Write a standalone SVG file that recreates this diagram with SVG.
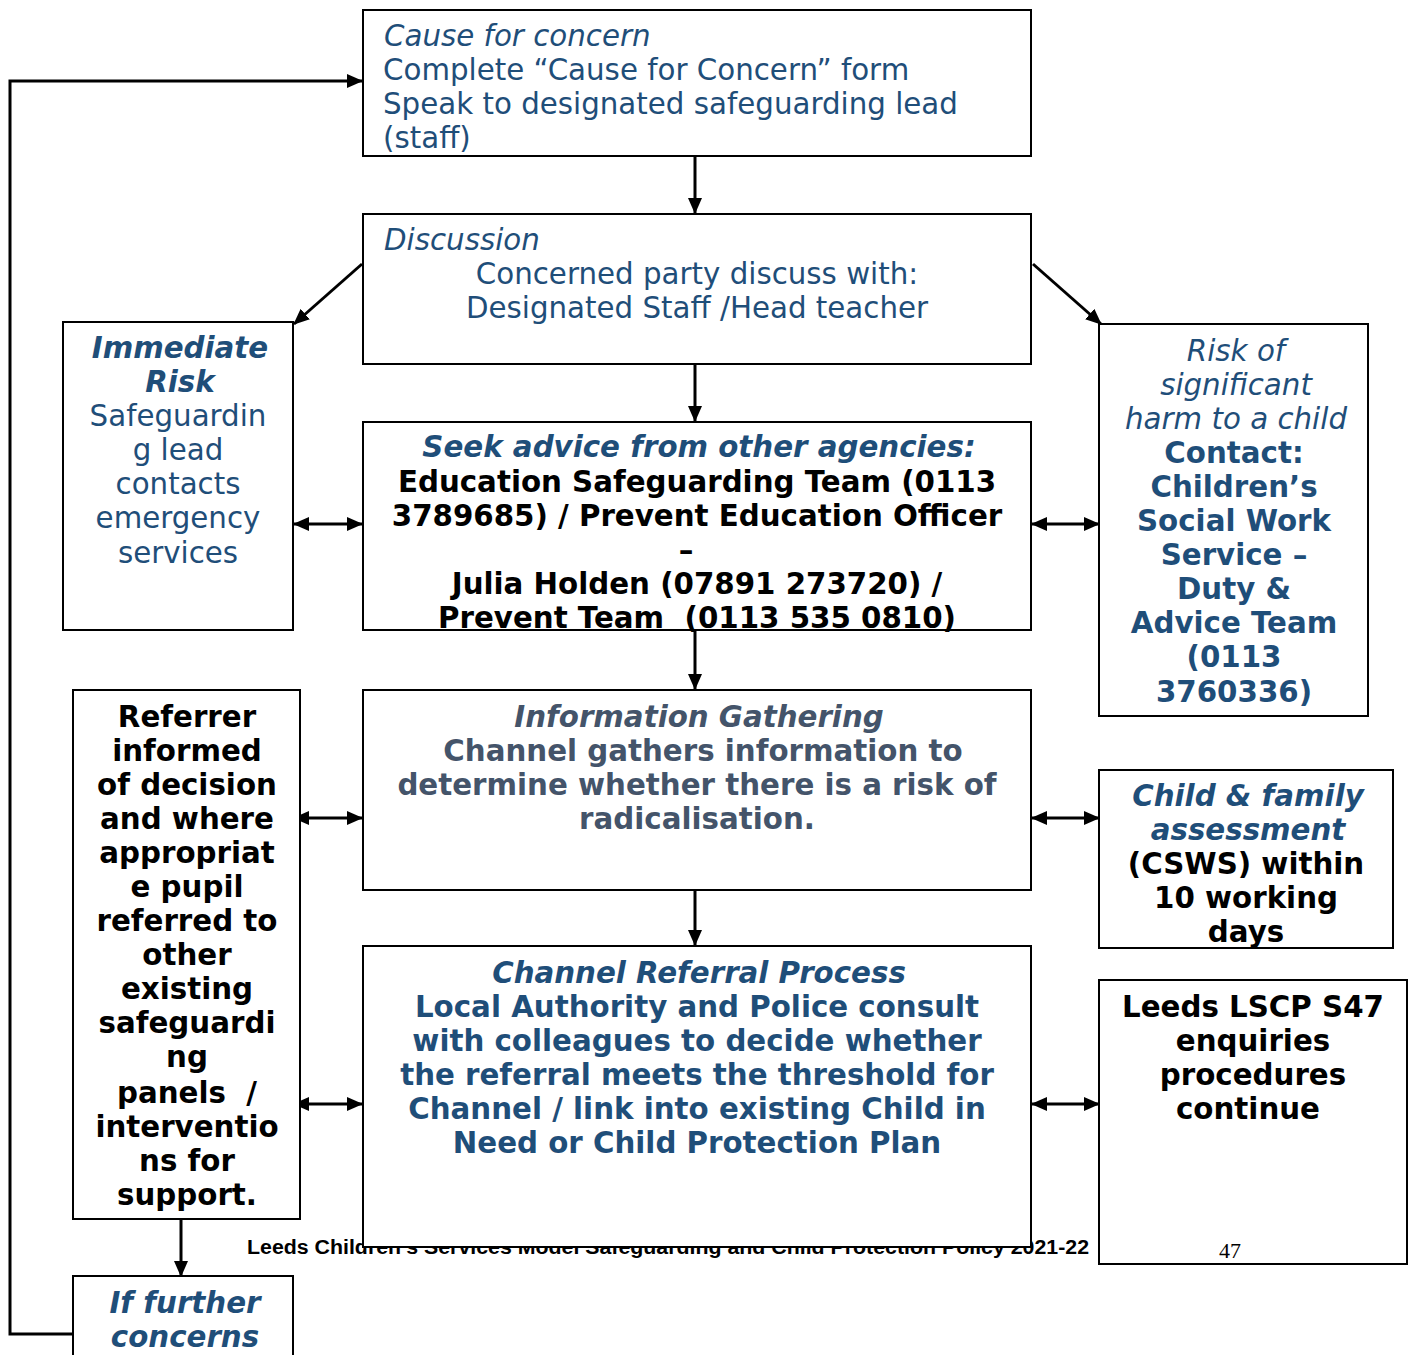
<svg xmlns="http://www.w3.org/2000/svg" width="1414" height="1355" viewBox="0 0 1414 1355">
<style>
.box{fill:#fff;stroke:#000;stroke-width:2}
.t{font-family:"DejaVu Sans",sans-serif;font-size:29.3px}
.blue{fill:#1F4E79}
.gray{fill:#44546A}
.blk{fill:#000}
.b{font-weight:bold}
.i{font-style:italic}
.c{text-anchor:middle}
.con{stroke:#000;stroke-width:3;fill:none}
</style>
<defs>
<marker id="ah" markerUnits="userSpaceOnUse" markerWidth="16" markerHeight="14" refX="15" refY="7" orient="auto-start-reverse" viewBox="0 0 16 14">
<path d="M0,0 L16,7 L0,14 z" fill="#000"/>
</marker>
</defs>
<text x="247" y="1254" font-family="Liberation Sans, Arial, sans-serif" font-size="20" font-weight="bold" textLength="842" lengthAdjust="spacingAndGlyphs">Leeds Children’s Services Model Safeguarding and Child Protection Policy 2021-22</text>
<g id="connectors">
<line class="con" x1="695" y1="156" x2="695" y2="213" marker-end="url(#ah)"/>
<line class="con" x1="695" y1="364" x2="695" y2="421" marker-end="url(#ah)"/>
<line class="con" x1="695" y1="630" x2="695" y2="689" marker-end="url(#ah)"/>
<line class="con" x1="695" y1="890" x2="695" y2="945" marker-end="url(#ah)"/>
<line class="con" x1="362" y1="264" x2="294" y2="324" marker-end="url(#ah)"/>
<line class="con" x1="1033" y1="264" x2="1101" y2="324" marker-end="url(#ah)"/>
<line class="con" x1="294" y1="524" x2="362" y2="524" marker-start="url(#ah)" marker-end="url(#ah)"/>
<line class="con" x1="1032" y1="524" x2="1099" y2="524" marker-start="url(#ah)" marker-end="url(#ah)"/>
<line class="con" x1="294" y1="818" x2="362" y2="818" marker-start="url(#ah)" marker-end="url(#ah)"/>
<line class="con" x1="1032" y1="818" x2="1099" y2="818" marker-start="url(#ah)" marker-end="url(#ah)"/>
<line class="con" x1="294" y1="1104" x2="362" y2="1104" marker-start="url(#ah)" marker-end="url(#ah)"/>
<line class="con" x1="1032" y1="1104" x2="1099" y2="1104" marker-start="url(#ah)" marker-end="url(#ah)"/>
<line class="con" x1="181" y1="1219" x2="181" y2="1276" marker-end="url(#ah)"/>
<polyline class="con" points="73,1334 10,1334 10,81 362,81" stroke-width="4" marker-end="url(#ah)"/>
</g>
<g id="cause">
<rect class="box" x="363" y="10" width="668" height="146"/>
<text class="t blue i" x="384" y="46">Cause for concern</text>
<text class="t blue" x="383" y="80">Complete “Cause for Concern” form</text>
<text class="t blue" x="383" y="114">Speak to designated safeguarding lead</text>
<text class="t blue" x="383" y="148">(staff)</text>
</g>
<g id="discussion">
<rect class="box" x="363" y="214" width="668" height="150"/>
<text class="t blue i" x="384" y="250">Discussion</text>
<text class="t blue c" x="697" y="284">Concerned party discuss with:</text>
<text class="t blue c" x="697" y="318">Designated Staff /Head teacher</text>
</g>
<g id="immediate">
<rect class="box" x="63" y="322" width="230" height="308"/>
<text class="t blue b i c" x="180" y="358">Immediate</text>
<text class="t blue b i c" x="180" y="392">Risk</text>
<text class="t blue c" x="178" y="426">Safeguardin</text>
<text class="t blue c" x="178" y="460">g lead</text>
<text class="t blue c" x="178" y="494">contacts</text>
<text class="t blue c" x="178" y="528">emergency</text>
<text class="t blue c" x="178" y="563">services</text>
</g>
<g id="seek">
<rect class="box" x="363" y="422" width="668" height="208"/>
<text class="t blue b i c" x="699" y="457">Seek advice from other agencies:</text>
<text class="t blk b c" x="697" y="492">Education Safeguarding Team (0113</text>
<text class="t blk b c" x="697" y="526">3789685) / Prevent Education Officer</text>
<text class="t blk b c" x="686" y="560">–</text>
<text class="t blk b c" x="697" y="594">Julia Holden (07891 273720) /</text>
<text class="t blk b c" x="697" y="628" xml:space="preserve">Prevent Team  (0113 535 0810)</text>
</g>
<g id="risk">
<rect class="box" x="1099" y="324" width="269" height="392"/>
<text class="t blue i c" x="1236" y="361">Risk of</text>
<text class="t blue i c" x="1236" y="395">significant</text>
<text class="t blue i c" x="1236" y="429">harm to a child</text>
<text class="t blue b c" x="1234" y="463">Contact:</text>
<text class="t blue b c" x="1234" y="497">Children’s</text>
<text class="t blue b c" x="1234" y="531">Social Work</text>
<text class="t blue b c" x="1234" y="565">Service –</text>
<text class="t blue b c" x="1234" y="599">Duty &amp;</text>
<text class="t blue b c" x="1234" y="633">Advice Team</text>
<text class="t blue b c" x="1234" y="667">(0113</text>
<text class="t blue b c" x="1234" y="702">3760336)</text>
</g>
<g id="info">
<rect class="box" x="363" y="690" width="668" height="200"/>
<text class="t gray b i c" x="699" y="727">Information Gathering</text>
<text class="t gray b c" x="703" y="761">Channel gathers information to</text>
<text class="t gray b c" x="697" y="795">determine whether there is a risk of</text>
<text class="t gray b c" x="697" y="829">radicalisation.</text>
</g>
<g id="referrer">
<rect class="box" x="73" y="690" width="227" height="529"/>
<text class="t blk b c" x="187" y="727">Referrer</text>
<text class="t blk b c" x="187" y="761">informed</text>
<text class="t blk b c" x="187" y="795">of decision</text>
<text class="t blk b c" x="187" y="829">and where</text>
<text class="t blk b c" x="187" y="863">appropriat</text>
<text class="t blk b c" x="187" y="897">e pupil</text>
<text class="t blk b c" x="187" y="931">referred to</text>
<text class="t blk b c" x="187" y="965">other</text>
<text class="t blk b c" x="187" y="999">existing</text>
<text class="t blk b c" x="187" y="1033">safeguardi</text>
<text class="t blk b c" x="187" y="1067">ng</text>
<text class="t blk b c" x="187" y="1103" xml:space="preserve">panels  /</text>
<text class="t blk b c" x="187" y="1137">interventio</text>
<text class="t blk b c" x="187" y="1171">ns for</text>
<text class="t blk b c" x="187" y="1205">support.</text>
</g>
<g id="childfamily">
<rect class="box" x="1099" y="770" width="294" height="178"/>
<text class="t blue b i c" x="1248" y="806">Child &amp; family</text>
<text class="t blue b i c" x="1248" y="840">assessment</text>
<text class="t blk b c" x="1246" y="874">(CSWS) within</text>
<text class="t blk b c" x="1246" y="908">10 working</text>
<text class="t blk b c" x="1246" y="942">days</text>
</g>
<g id="channel">
<rect class="box" x="363" y="946" width="668" height="301"/>
<text class="t blue b i c" x="699" y="983">Channel Referral Process</text>
<text class="t blue b c" x="697" y="1017">Local Authority and Police consult</text>
<text class="t blue b c" x="697" y="1051">with colleagues to decide whether</text>
<text class="t blue b c" x="697" y="1085">the referral meets the threshold for</text>
<text class="t blue b c" x="697" y="1119">Channel / link into existing Child in</text>
<text class="t blue b c" x="697" y="1153">Need or Child Protection Plan</text>
</g>
<g id="lscp">
<rect class="box" x="1099" y="980" width="308" height="284"/>
<text class="t blk b c" x="1253" y="1017">Leeds LSCP S47</text>
<text class="t blk b c" x="1253" y="1051">enquiries</text>
<text class="t blk b c" x="1253" y="1085">procedures</text>
<text class="t blk b c" x="1248" y="1119">continue</text>
<text x="1219" y="1258" font-family="Liberation Serif, serif" font-size="22" fill="#000">47</text>
</g>
<g id="further">
<rect class="box" x="73" y="1276" width="220" height="100"/>
<text class="t blue b i c" x="185" y="1313">If further</text>
<text class="t blue b i c" x="185" y="1347">concerns</text>
</g>
</svg>
